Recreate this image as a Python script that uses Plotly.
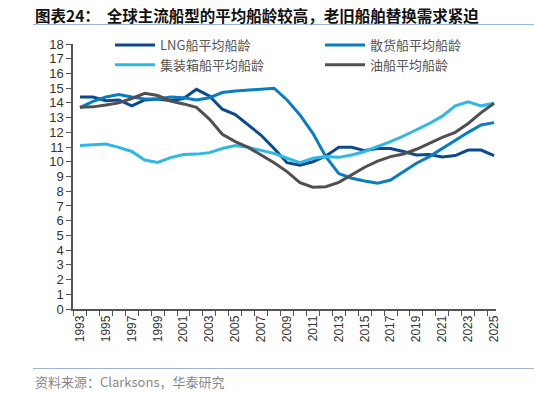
import plotly.graph_objects as go

years = list(range(1993, 2026))
lng = [14.4, 14.4, 14.15, 14.2, 13.8, 14.2, 14.27, 14.15, 14.3, 14.92, 14.47, 13.57, 13.2, 12.5, 11.8,
       10.9, 9.94, 9.76, 10.0, 10.4, 10.98, 10.98, 10.76, 10.9, 10.9, 10.7, 10.46, 10.5, 10.33, 10.42,
       10.8, 10.8, 10.42]
bulk = [13.68, 14.1, 14.4, 14.56, 14.4, 14.27, 14.27, 14.4, 14.35, 14.2, 14.35, 14.7, 14.8, 14.85, 14.92,
        15.0, 14.2, 13.18, 11.93, 10.35, 9.2, 8.88, 8.7, 8.54, 8.76, 9.33, 9.9, 10.35, 10.9, 11.48,
        12.0, 12.5, 12.66]
container = [11.1, 11.13, 11.2, 10.98, 10.7, 10.12, 9.96, 10.28, 10.5, 10.52, 10.62, 10.9, 11.1, 10.98, 10.8,
             10.57, 10.24, 9.94, 10.24, 10.35, 10.3, 10.46, 10.7, 11.03, 11.37, 11.75, 12.16, 12.6, 13.1, 13.8,
             14.08, 13.8, 13.97]
tanker = [13.7, 13.73, 13.86, 14.0, 14.3, 14.65, 14.5, 14.13, 13.93, 13.7, 12.9, 11.87, 11.37, 10.98, 10.46,
          9.94, 9.33, 8.58, 8.27, 8.31, 8.6, 9.1, 9.63, 10.05, 10.35, 10.53, 10.85, 11.25, 11.66, 12.0,
          12.6, 13.34, 13.97]

names = ["LNG船平均船龄", "散货船平均船龄", "集装箱船平均船龄", "油船平均船龄"]
colors = ["#0B4A8C", "#0A7DC1", "#2EB8E6", "#505050"]
legend_ids = ["legend", "legend2", "legend", "legend2"]
series = [lng, bulk, container, tanker]

xtick_labels = [str(y) for y in range(1993, 2026, 2)]
ytick_vals = list(range(0, 19))

W, H = 534, 393
ML, MR, MT, MB = 73, 38, 44, 84
PW, PH = W - ML - MR, H - MT - MB


def px_x(p):
    return (p - ML) / PW


def px_y(p):
    return (H - MB - p) / PH


cjk = "Noto Sans CJK SC"
fig = go.Figure()
for n, c, s, lg in zip(names, colors, series, legend_ids):
    fig.add_trace(go.Scatter(x=years, y=s, name=n, mode="lines", legend=lg,
                             line=dict(color=c, width=3)))

legend_style = dict(orientation="v", xanchor="left", yanchor="top",
                    font=dict(family=cjk, size=13, color="#555555"),
                    bgcolor="rgba(0,0,0,0)", tracegroupgap=0, itemwidth=40)
fig.update_layout(
    width=W, height=H,
    margin=dict(l=ML, r=MR, t=MT, b=MB),
    paper_bgcolor="white", plot_bgcolor="white",
    showlegend=True,
    legend=dict(x=px_x(110), y=px_y(30), **legend_style),
    legend2=dict(x=px_x(320), y=px_y(30), **legend_style),
    font=dict(family="Liberation Sans", color="#333333"),
)
fig.update_xaxes(
    range=[1992.46, 2025.15],
    tickmode="array", tickvals=[int(t) for t in xtick_labels], ticktext=xtick_labels,
    tickangle=-90, ticks="", tickfont=dict(family="Liberation Sans", size=12, color="#333333"),
    showline=True, linecolor="#555555", linewidth=1.5, showgrid=False, zeroline=False,
    minor=dict(tickmode="linear", tick0=1992.5, dtick=1, ticks="outside", ticklen=5,
               tickcolor="#555555", tickwidth=1, showgrid=False),
)
fig.update_yaxes(
    range=[0, 18], tickmode="array", tickvals=ytick_vals,
    ticks="outside", ticklen=5, tickcolor="#555555",
    tickfont=dict(family="Liberation Sans", size=13, color="#333333"),
    showline=True, linecolor="#555555", linewidth=1.5, showgrid=False, zeroline=False,
)

fig.add_annotation(xref="paper", yref="paper", x=px_x(33), y=px_y(15),
                   xanchor="left", yanchor="middle", showarrow=False,
                   text="<b>图表24：  全球主流船型的平均船龄较高，老旧船舶替换需求紧迫</b>",
                   font=dict(family=cjk, size=15.5, color="#111111"))
fig.add_shape(type="line", xref="paper", yref="paper", x0=px_x(33), x1=px_x(534),
              y0=px_y(24.5), y1=px_y(24.5), line=dict(color="#9FB6D6", width=1))
fig.add_shape(type="line", xref="paper", yref="paper", x0=px_x(33), x1=px_x(534),
              y0=px_y(368.5), y1=px_y(368.5), line=dict(color="#9FB6D6", width=1))
fig.add_annotation(xref="paper", yref="paper", x=px_x(33), y=px_y(381),
                   xanchor="left", yanchor="middle", showarrow=False,
                   text="资料来源：Clarksons，华泰研究",
                   font=dict(family=cjk, size=13, color="#888888"))

fig.write_html("out.html", config={"displayModeBar": False},
               post_script="document.body.style.margin='0';document.body.style.overflow='hidden';")
